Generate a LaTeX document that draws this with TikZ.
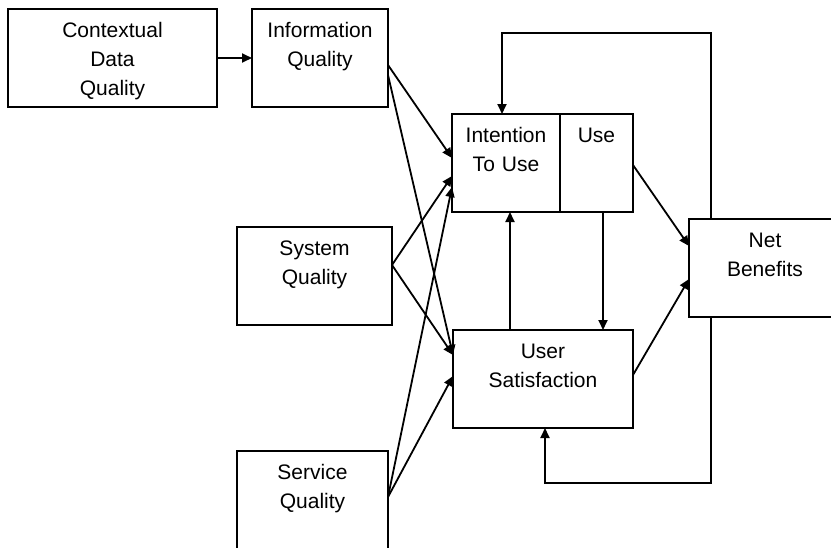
\documentclass[tikz,border=0pt]{standalone}
\usepackage{fontspec}
\setmainfont{Liberation Sans}
\usepackage{tikz}
\usetikzlibrary{arrows.meta, positioning}
\tikzstyle{box} = [draw, line width=0.9pt, inner sep=0pt, outer sep=0pt, anchor=north west, align=center, text height=14pt, text depth=35pt, font=\fontsize{10.5}{14.5}\selectfont]
\tikzstyle{line} = [draw, line width=0.9pt, -{Triangle[length=5pt, width=4.5pt]}]

\begin{document}
\begin{tikzpicture}[x=0.5pt, y=-0.5pt]
			\useasboundingbox (0, 0) rectangle (831, 547);
			\node [box, text width=104.5pt] (cdq) at (8, 9) {Contextual\\Data\\Quality};
			\node [box, text width=68pt] (iq) at (252, 9) {Information\\Quality};
			\node [box, text width=77.5pt] (sysq) at (237, 227) {System\\Quality};
			\node [box, text width=75.5pt] (servq) at (237, 451) {Service\\Quality};
			\node [box, text width=54pt] (intent) at (452, 114) {Intention\\To Use};
			\node [box, text width=36.5pt, right=0pt of intent] (use) {Use};
			\node [box, text width=90pt] (us) at (453, 330) {User\\Satisfaction};
			\node [box, text width=76pt] (nb) at (689, 219) {Net\\Benefits};
			
			\path [line] (cdq) -- (iq);
			\path [line] (iq.east |- 0,65) -- (intent.west |- 0,158);
			\path [line] (iq.east |- 0,75) -- (us.west |- 0,355);
			\path [line] (sysq.east |- 0,265) -- (intent.west |- 0,176);
			\path [line] (sysq.east |- 0,265) -- (us.west |- 0,355);
			\path [line] (servq.east |- 0,497) -- (intent.west |- 0,187);
			\path [line] (servq.east |- 0,497) -- (us.west |- 0,376);
			\path [line] (us.north -| 510,0) -- (intent.south -| 510,0);
			\path [line] (use.south -| 603,0) -- (us.north -| 603,0);
			\path [line] (use.east |- 0,165) -- (nb.west |- 0,246);
			\path [line] (us.east |- 0,375) -- (nb.west |- 0,279);
			\path [line] (nb.north -| 711,0) |- (502,33) -- (intent.north -| 502,0);
			\path [line] (nb.south -| 711,0) |- (545,483) -- (us.south -| 545,0);
		\end{tikzpicture}
\end{document}
